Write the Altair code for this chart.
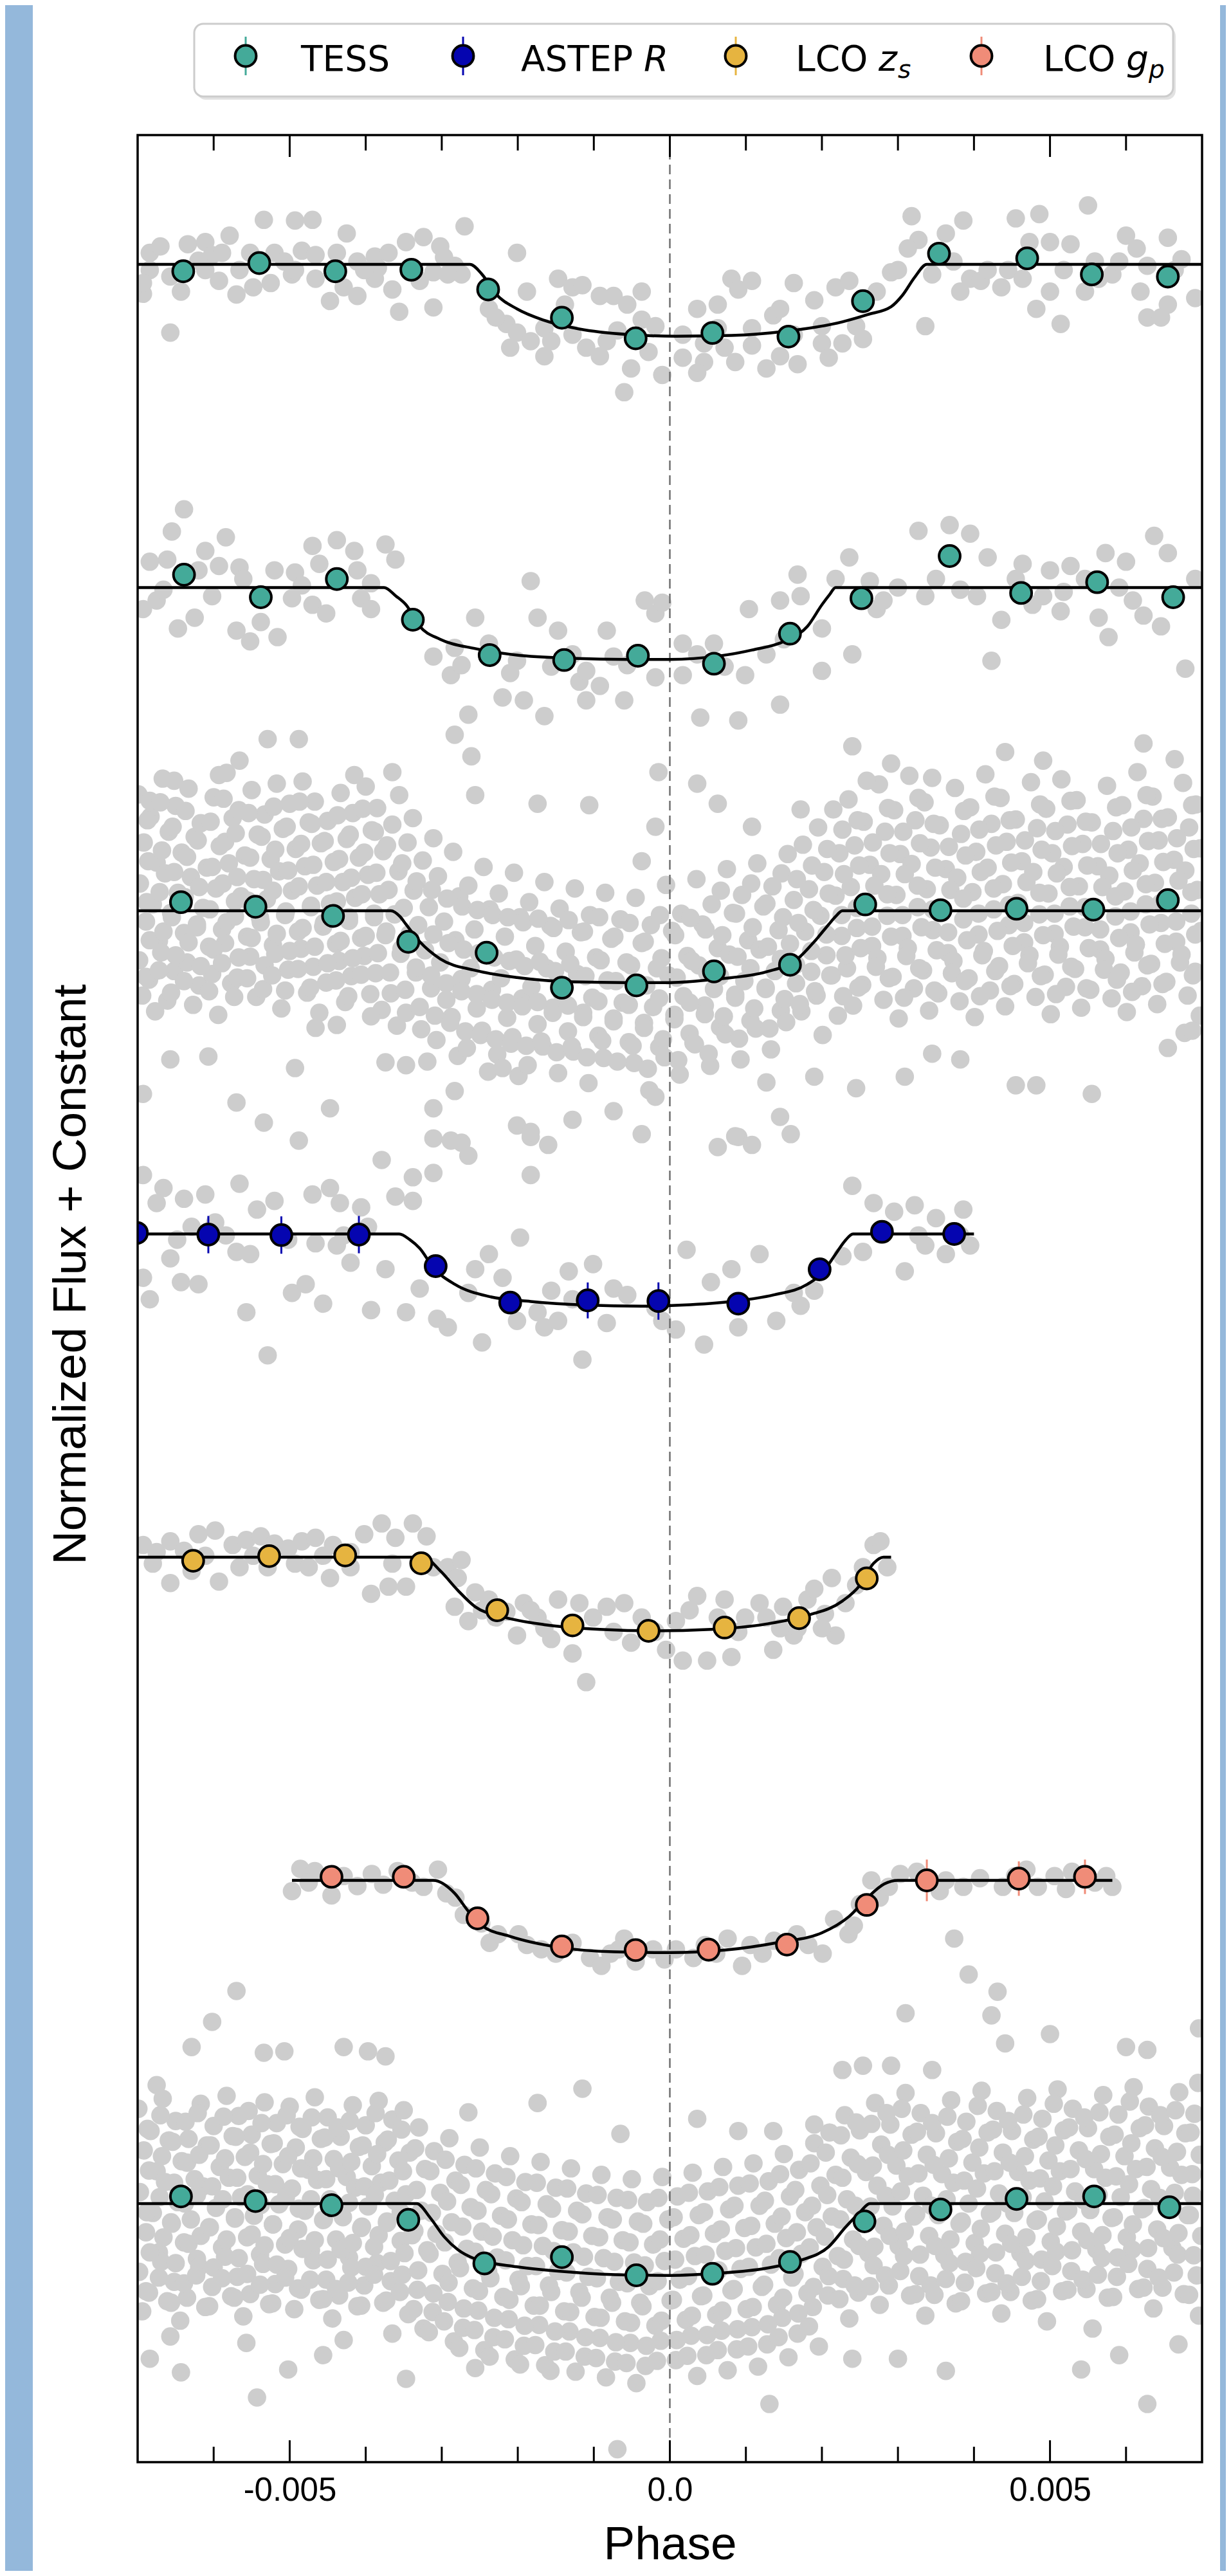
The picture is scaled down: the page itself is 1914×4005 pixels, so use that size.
import altair as alt
import pandas as pd

# ------------------------------------------------------------------
# DATA  (phase in units of 1e-3, relative flux in ppt about each baseline)
# ------------------------------------------------------------------
flux_offset = 0.045          # constant added between light curves
panel_inst = ["TESS", "TESS", "TESS", "ASTEP R", "LCO zs", "LCO gp", "TESS"]
instruments = ["TESS", "ASTEP R", "LCO zs", "LCO gp"]
inst_colors = ["#44AA99", "#0505B0", "#E6B440", "#F08C78"]

xtick_major = [-0.005, 0.0, 0.005]
xtick_labels = ["-0.005", "0.0", "0.005"]
xtick_minor = [-0.006, -0.004, -0.003, -0.002, -0.001, 0.001, 0.002, 0.003, 0.004, 0.006]

# ---- unbinned (grey) photometry ----
gray_p1 = [
(-6.57,-9.5),(-5.34,6.2),(-4.93,6.1),(-4.70,6.2),(-4.25,4.3),(-5.79,4.0),(-2.70,5.3),(-3.11,-6.0),(-3.56,-6.6),(-5.70,-4.2),(-4.47,-5.1),(-4.11,-4.4),(-6.93,-4.1),
(-6.84,1.6),(-6.70,2.5),(-6.34,2.8),(-6.11,3.1),(-6.02,1.3),(-6.20,0.5),(-5.89,1.6),(-5.66,-0.8),(-5.52,1.6),(-5.20,1.6),(-5.07,0.4),(-4.84,1.9),(-4.66,1.3),(-4.38,1.6),(-4.11,0.4),(-3.88,1.1),(-3.70,1.6),(-3.47,3.1),(-3.24,3.8),(-3.02,2.5),(-2.97,1.0),(-2.83,-0.2),(-2.74,-1.4),
(-6.84,-0.8),(-6.57,-1.7),(-6.43,-3.8),(-5.93,-2.3),(-5.48,-3.2),(-5.25,-2.6),(-4.97,-1.4),(-4.66,-2.0),(-4.29,-3.2),(-3.88,-2.0),(-3.65,-3.5),(-3.29,-2.3),(-3.11,-1.1),(-6.93,-2.6),(-6.11,-0.8),(-4.93,-0.8),(-3.84,-0.5),(-2.92,-1.4),(-4.02,-0.8),
(-2.38,-6.2),(-2.15,-8.3),(-2.01,1.6),(-1.88,-3.8),(-2.01,-9.5),(-1.65,-8.9),(-1.47,-2.0),(-1.56,-10.7),(-1.28,-3.2),(-1.15,-2.9),(-1.10,-11.6),(-0.92,-4.4),(-0.74,-4.4),(-0.69,-9.2),(-0.56,-5.6),(-0.37,-3.8),(-0.37,-7.7),(-0.51,-14.5),(-0.60,-17.8),(-0.28,-12.2),(-0.10,-15.4),(-1.65,-12.8),(-1.83,-10.7),(-2.29,-7.4),(-2.10,-11.6),(-1.28,-9.8),(-0.83,-10.7),(-0.19,-8.6),(-0.92,-12.8),(-1.38,-5.6),
(0.17,-9.8),(0.36,-6.2),(0.63,-5.6),(0.81,-2.0),(1.08,-2.3),(0.90,-3.5),(1.36,-7.1),(1.63,-2.6),(1.45,-6.2),(1.90,-5.0),(2.00,-8.6),(2.18,-3.2),(2.36,-2.3),(2.54,-10.4),(2.91,-1.1),(0.17,-13.0),(0.45,-13.6),(0.72,-11.6),(0.86,-13.6),(1.08,-8.9),(1.27,-14.5),(1.45,-12.8),(1.68,-13.9),(2.00,-11.0),(2.27,-11.0),(2.09,-13.0),(0.63,-8.9),(1.08,-11.3),(0.45,-11.0),(1.63,-9.8),(2.45,-8.6),(2.72,-3.8),(0.36,-15.1),
(3.18,6.7),(3.27,3.4),(3.36,-8.6),(3.45,-1.4),(3.63,4.3),(3.86,6.1),(3.95,-2.0),(4.09,-2.3),(4.36,-3.2),(4.55,6.4),(4.73,3.1),(4.82,-6.2),(4.86,7.0),(5.00,3.1),(5.14,-8.3),(5.27,2.8),(5.50,8.2),(5.46,-3.8),(5.64,-2.0),(5.82,-1.4),(6.00,4.0),(6.14,2.2),(6.28,-7.4),(6.46,-7.4),(6.55,3.7),(6.73,0.7),(6.91,-4.7),(3.00,-0.8),(3.13,2.2),(3.73,0.4),(4.18,-0.8),(4.45,-0.8),(5.18,-0.8),(5.59,0.4),(5.91,0.4),(6.28,-0.2),(6.64,-0.8),(5.00,-3.8),(6.19,-3.8),(6.55,-5.6),(3.82,-3.8),(4.64,-2.0),
]

gray_p2 = [
(-6.39,10.9),(-6.55,7.8),(-5.84,7.0),(-6.11,5.1),(-6.84,3.6),(-6.61,3.9),(-6.20,2.4),(-5.93,3.0),(-5.66,2.8),(-5.61,1.2),(-5.20,2.4),(-4.93,2.1),(-4.70,5.8),(-4.38,6.6),(-4.15,5.1),(-3.74,6.0),(-3.61,3.9),(-4.61,3.3),(-4.11,2.4),(-6.93,-3.0),(-6.75,-1.8),(-6.47,-5.7),(-6.25,-4.2),(-5.70,-6.0),(-5.52,-7.5),(-5.16,-6.9),(-5.38,-4.8),(-4.97,-1.5),(-4.70,-2.4),(-4.52,-3.6),(-4.06,-1.5),(-3.93,-3.0),(-6.02,-1.2),(-6.66,-0.3),(-4.84,0.3),(-3.93,0.6),
(-3.11,-9.6),(-2.88,-12.2),(-2.56,-4.2),(-1.83,0.9),(-1.74,-4.2),(-1.47,-6.0),(-1.19,-13.1),(-0.92,-13.7),(-0.83,-6.0),(-0.33,-1.8),(-0.19,-3.6),(-0.10,-2.1),(-0.19,-12.5),(-2.83,-8.4),(-2.38,-7.8),(-2.01,-10.2),(-1.56,-11.0),(-1.28,-9.3),(-0.74,-9.6),(-0.56,-10.8),(-1.10,-11.6),(-2.10,-11.9),(-2.74,-10.8),
(0.17,-7.8),(0.17,-12.2),(0.58,-7.8),(0.99,-12.2),(1.04,-3.0),(1.45,-1.8),(1.50,-7.2),(1.68,1.8),(2.00,-5.7),(2.00,-11.6),(2.18,1.2),(2.40,-9.3),(2.36,4.2),(1.27,-9.3),(0.72,-11.0),(0.36,-9.3),(1.72,-1.2),
(2.63,0.9),(2.72,-3.0),(2.81,-1.8),(3.27,7.9),(3.68,8.7),(3.95,7.5),(4.18,4.2),(3.50,1.2),(3.36,-1.2),(4.04,-1.2),(4.23,-10.2),(4.36,-4.5),(4.64,3.3),(4.77,-2.4),(5.00,2.4),(5.14,-3.3),(5.27,3.0),(5.64,-4.2),(5.73,4.8),(5.77,-6.9),(6.00,3.6),(6.23,-3.9),(6.37,7.2),(6.46,-5.4),(6.55,4.8),(6.78,-11.3),(6.91,1.2),(4.55,1.2),(5.46,1.2),(5.91,0.0),(4.91,-1.2),(3.82,-0.3),(3.00,0.0),(6.09,-1.8),(5.18,-0.6),
]

gray_p3 = [
(-6.99,16.2),(-6.92,9.5),(-6.97,3.8),(-6.89,-1.5),(-6.98,-6.9),(-6.94,-11.8),
(-6.83,13.1),(-6.75,6.7),(-6.80,0.9),(-6.72,-4.2),(-6.85,-9.6),(-6.77,-14.0),
(-6.67,18.4),(-6.59,11.0),(-6.64,5.2),(-6.56,-0.3),(-6.69,-5.8),(-6.61,-12.5),
(-6.50,14.6),(-6.42,8.1),(-6.47,2.5),(-6.39,-3.1),(-6.52,-8.4),
(-6.33,17.0),(-6.25,10.3),(-6.30,4.7),(-6.22,-1.9),(-6.35,-7.2),(-6.27,-13.1),
(-6.17,12.2),(-6.09,6.0),(-6.14,0.4),(-6.06,-5.0),(-6.19,-10.4),
(-6.00,15.8),(-5.92,9.0),(-5.97,3.1),(-5.89,-2.6),(-6.02,-8.8),(-5.94,-14.5),
(-5.83,19.2),(-5.75,12.9),(-5.80,6.6),(-5.72,1.3),(-5.85,-4.5),(-5.77,-10.1),
(-5.67,14.0),(-5.59,7.7),(-5.64,2.0),(-5.56,-3.6),(-5.69,-9.3),
(-5.50,16.8),(-5.42,10.6),(-5.47,4.4),(-5.39,-1.0),(-5.52,-6.4),(-5.44,-12.0),
(-5.33,13.4),(-5.25,7.2),(-5.30,1.6),(-5.22,-4.8),(-5.35,-10.9),
(-5.17,17.7),(-5.09,11.4),(-5.14,5.5),(-5.06,-0.6),(-5.19,-6.0),(-5.11,-13.6),
(-5.00,14.9),(-4.92,8.6),(-4.97,2.8),(-4.89,-2.9),(-5.02,-8.2),
(-4.83,18.0),(-4.75,12.3),(-4.80,6.2),(-4.72,0.7),(-4.85,-5.3),(-4.77,-11.4),
(-4.67,15.2),(-4.59,9.4),(-4.64,3.5),(-4.56,-2.2),(-4.69,-7.8),(-4.61,-14.2),
(-4.50,12.5),(-4.42,6.8),(-4.47,1.0),(-4.39,-4.6),(-4.52,-10.0),
(-4.33,16.4),(-4.25,10.0),(-4.30,4.0),(-4.22,-1.4),(-4.35,-7.0),(-4.27,-12.7),
(-4.17,13.6),(-4.09,7.4),(-4.14,1.8),(-4.06,-3.8),(-4.19,-9.1),
(-4.00,17.3),(-3.92,11.2),(-3.97,5.0),(-3.89,-0.9),(-4.02,-6.3),(-3.94,-11.6),
(-3.85,14.3),(-3.77,8.3),(-3.82,2.3),(-3.74,-3.4),(-3.87,-8.7),(-3.79,-13.8),
(-3.65,12.0),(-3.57,5.5),(-3.62,-0.5),(-3.54,-6.0),(-3.67,-11.5),(-3.59,-16.0),
(-3.45,9.5),(-3.37,2.8),(-3.42,-3.2),(-3.34,-8.6),(-3.47,-14.2),
(-3.25,7.0),(-3.17,0.5),(-3.22,-5.5),(-3.14,-10.8),(-3.27,-16.5),(-3.19,-21.0),
(-3.05,4.8),(-2.97,-1.5),(-3.02,-7.2),(-2.94,-12.4),(-3.07,-18.0),
(-2.85,8.2),(-2.77,2.0),(-2.82,-4.1),(-2.74,-9.5),(-2.87,-14.8),(-2.79,-20.2),
(-2.65,3.5),(-2.57,-2.6),(-2.62,-8.0),(-2.54,-13.6),(-2.67,-19.1),
(-2.45,6.1),(-2.37,0.2),(-2.42,-5.6),(-2.34,-11.0),(-2.47,-16.7),(-2.39,-22.4),
(-2.25,2.4),(-2.17,-3.6),(-2.22,-9.4),(-2.14,-14.9),(-2.27,-20.0),
(-2.05,5.3),(-1.97,-0.9),(-2.02,-6.8),(-1.94,-12.2),(-2.07,-17.6),(-1.99,-23.0),
(-1.85,1.2),(-1.77,-4.9),(-1.82,-10.6),(-1.74,-15.8),(-1.87,-21.5),
(-1.65,4.0),(-1.57,-2.1),(-1.62,-8.0),(-1.54,-13.5),(-1.67,-18.9),
(-1.45,0.3),(-1.37,-5.7),(-1.42,-11.5),(-1.34,-16.8),(-1.47,-22.6),
(-1.25,3.1),(-1.17,-3.0),(-1.22,-8.8),(-1.14,-14.2),(-1.27,-19.6),
(-1.05,-0.6),(-0.97,-6.5),(-1.02,-12.1),(-0.94,-17.4),(-1.07,-24.0),
(-0.85,2.5),(-0.77,-3.9),(-0.82,-9.7),(-0.74,-15.0),(-0.87,-20.5),
(-0.65,-1.2),(-0.57,-7.2),(-0.62,-12.8),(-0.54,-18.3),
(-0.45,1.8),(-0.37,-4.5),(-0.42,-10.2),(-0.34,-15.6),(-0.47,-21.2),
(-0.25,-2.0),(-0.17,-8.0),(-0.22,-13.4),(-0.14,-19.0),(-0.27,-25.0),
(-0.05,3.6),(0.03,-2.8),(-0.02,-9.0),(0.06,-14.5),(-0.07,-20.4),
(0.15,-0.4),(0.23,-6.3),(0.18,-11.9),(0.26,-17.1),(0.13,-22.8),
(0.35,4.4),(0.43,-1.9),(0.38,-7.6),(0.46,-13.2),(0.33,-18.6),
(0.55,0.9),(0.63,-5.2),(0.58,-10.9),(0.66,-16.2),(0.53,-21.6),
(0.75,5.8),(0.83,-0.3),(0.78,-6.1),(0.86,-11.7),(0.73,-17.2),
(0.95,2.2),(1.03,-4.1),(0.98,-9.8),(1.06,-15.3),(0.93,-20.7),
(1.15,6.6),(1.23,0.6),(1.18,-5.4),(1.26,-10.7),(1.13,-16.4),
(1.35,3.4),(1.43,-2.7),(1.38,-8.4),(1.46,-13.9),(1.33,-19.3),
(1.55,7.9),(1.63,1.5),(1.58,-4.6),(1.66,-10.1),(1.53,-15.5),
(1.75,9.2),(1.83,3.0),(1.78,-2.9),(1.86,-8.5),(1.73,-14.0),
(1.95,11.6),(2.03,5.4),(1.98,-0.7),(2.06,-6.2),(1.93,-11.8),(2.01,-17.3),
(2.15,14.1),(2.23,8.0),(2.18,2.1),(2.26,-3.5),(2.13,-9.0),(2.21,-14.6),
(2.35,15.5),(2.43,9.1),(2.38,3.3),(2.46,-2.4),(2.33,-8.0),(2.41,-13.2),
(2.55,12.4),(2.63,6.4),(2.58,0.8),(2.66,-4.9),(2.53,-10.3),
(2.75,17.6),(2.83,11.0),(2.78,5.1),(2.86,-0.7),(2.73,-6.6),(2.81,-12.4),
(2.95,14.0),(3.03,7.9),(2.98,2.2),(3.06,-3.5),(2.93,-9.2),(3.01,-15.0),
(3.15,18.8),(3.23,12.6),(3.18,6.5),(3.26,0.5),(3.13,-5.2),(3.21,-10.8),
(3.35,15.1),(3.43,8.8),(3.38,3.0),(3.46,-2.7),(3.33,-8.3),(3.41,-13.9),
(3.55,11.9),(3.63,5.8),(3.58,-0.1),(3.66,-5.9),(3.53,-11.5),
(3.75,17.1),(3.83,10.7),(3.78,4.6),(3.86,-1.2),(3.73,-7.0),(3.81,-12.6),
(3.95,14.4),(4.03,8.2),(3.98,2.6),(4.06,-3.3),(3.93,-9.4),(4.01,-14.8),
(4.15,19.0),(4.23,12.1),(4.18,6.0),(4.26,0.2),(4.13,-5.6),(4.21,-11.1),
(4.35,15.7),(4.43,9.6),(4.38,3.7),(4.46,-2.0),(4.33,-7.7),(4.41,-13.3),
(4.55,12.7),(4.63,6.9),(4.58,1.1),(4.66,-4.4),(4.53,-10.2),
(4.75,17.9),(4.83,11.5),(4.78,5.4),(4.86,-0.5),(4.73,-6.2),(4.81,-12.0),
(4.95,14.2),(5.03,8.0),(4.98,2.4),(5.06,-3.2),(4.93,-8.9),(5.01,-14.4),
(5.15,18.3),(5.23,12.0),(5.18,6.1),(5.26,0.6),(5.13,-5.0),(5.21,-10.6),
(5.35,15.4),(5.43,9.3),(5.38,3.4),(5.46,-2.3),(5.33,-8.1),(5.41,-13.5),
(5.55,12.3),(5.63,6.2),(5.58,0.3),(5.66,-5.4),(5.53,-11.0),
(5.75,17.4),(5.83,11.1),(5.78,4.9),(5.86,-0.8),(5.73,-6.7),(5.81,-12.2),
(5.95,14.7),(6.03,8.5),(5.98,2.7),(6.06,-3.0),(5.93,-8.6),(6.01,-14.1),
(6.15,19.3),(6.23,12.8),(6.18,6.6),(6.26,0.9),(6.13,-4.7),(6.21,-10.5),
(6.35,15.9),(6.43,9.8),(6.38,3.9),(6.46,-1.7),(6.33,-7.4),(6.41,-13.0),
(6.55,13.0),(6.63,7.1),(6.58,1.4),(6.66,-4.3),(6.53,-9.9),
(6.75,17.8),(6.83,11.6),(6.78,5.6),(6.86,-0.4),(6.73,-6.1),(6.81,-11.8),(6.77,-17.0),
(6.92,14.8),(6.98,8.7),(6.94,2.9),(6.99,-2.8),(6.91,-8.5),(6.97,-14.6),
(-5.29,23.9),(-4.88,23.9),(-5.66,20.9),(-5.93,18.9),(-6.52,18.1),(-6.84,15.3),(-6.57,-20.7),(-6.07,-20.3),(-6.93,-25.5),(-5.70,-26.7),(-5.34,-29.5),(-4.47,-27.5),(-4.93,-21.9),(-4.66,-16.3),(-4.38,-15.9),(-3.93,-14.7),(-3.65,19.3),(-4.15,18.9),(-3.56,16.1),
(-2.65,27.3),(-2.83,24.5),(-2.61,21.5),(-2.56,16.1),(-3.11,10.1),(-3.38,12.9),(-2.20,29.7),(-1.92,29.3),(-1.65,27.1),(-1.10,29.3),(-0.60,29.3),(-1.74,14.9),(-1.06,14.7),(-0.15,19.3),(-0.19,11.7),(-0.37,6.9),(0.40,26.9),(0.90,26.5),(1.45,28.7),(0.36,17.7),(0.63,14.9),(1.08,11.7),(1.72,14.1),
(-3.74,-21.1),(-3.47,-21.5),(-3.11,-27.5),(-2.83,-25.1),(-2.74,-32.3),(-2.20,-21.9),(-2.01,-29.9),(-1.83,-31.5),(-1.28,-29.1),(-0.74,-27.9),(-0.37,-31.1),(-0.19,-25.9),(0.90,-31.5),(1.45,-28.7),(1.27,-23.9),(1.90,-23.1),
(2.40,22.9),(2.91,20.5),(2.59,18.1),(3.45,18.5),(4.41,22.1),(4.91,20.9),(6.23,23.3),(6.64,21.1),(2.45,-24.7),(3.09,-23.1),(3.45,-19.9),(3.82,-20.7),(4.55,-24.3),(4.82,-24.3),(5.55,-25.5),(6.55,-19.1),(6.87,-16.7),
]

gray_p3_core = [
(-6.87,12.6),(-6.86,6.9),(-6.88,1.2),(-6.84,-4.1),(-6.89,-9.2),
(-6.70,15.1),(-6.68,8.4),(-6.71,2.6),(-6.66,-2.9),(-6.72,-8.3),
(-6.54,11.7),(-6.52,5.4),(-6.55,-0.9),(-6.50,-6.2),(-6.56,-11.4),
(-6.37,13.9),(-6.35,7.5),(-6.38,1.9),(-6.33,-4.4),(-6.39,-9.8),
(-6.21,9.8),(-6.19,3.3),(-6.22,-2.3),(-6.17,-7.7),
(-6.04,12.4),(-6.02,6.1),(-6.05,0.2),(-6.00,-5.4),(-6.06,-11.2),
(-5.87,15.6),(-5.85,9.6),(-5.88,3.8),(-5.83,-1.6),(-5.89,-7.3),
(-5.71,10.8),(-5.69,4.7),(-5.72,-0.8),(-5.67,-6.5),(-5.73,-12.0),
(-5.54,13.6),(-5.52,7.4),(-5.55,1.4),(-5.50,-3.8),(-5.56,-9.4),
(-5.37,10.3),(-5.35,4.3),(-5.38,-1.6),(-5.33,-7.6),
(-5.21,14.5),(-5.19,8.5),(-5.22,2.8),(-5.17,-3.2),(-5.23,-9.0),
(-5.04,11.7),(-5.02,5.6),(-5.05,-0.1),(-5.00,-5.6),(-5.06,-11.1),
(-4.87,15.2),(-4.85,9.3),(-4.88,3.4),(-4.83,-2.4),(-4.89,-8.1),
(-4.71,12.1),(-4.69,6.4),(-4.72,0.5),(-4.67,-5.0),(-4.73,-10.7),
(-4.54,9.7),(-4.52,4.0),(-4.55,-1.7),(-4.50,-7.3),
(-4.37,13.3),(-4.35,7.2),(-4.38,1.3),(-4.33,-4.2),(-4.39,-9.7),
(-4.21,10.6),(-4.19,4.6),(-4.22,-0.9),(-4.17,-6.6),(-4.23,-11.9),
(-4.04,14.2),(-4.02,8.1),(-4.05,2.3),(-4.00,-3.5),(-4.06,-8.9),
(-3.88,11.0),(-3.86,5.3),(-3.89,-0.4),(-3.84,-5.9),
(-3.72,9.1),(-3.70,2.9),(-3.73,-2.9),(-3.68,-8.6),
(-3.52,6.6),(-3.50,0.4),(-3.53,-5.3),(-3.48,-11.0),
(-3.33,4.1),(-3.31,-2.0),(-3.34,-7.9),(-3.29,-13.4),
(-3.13,2.9),(-3.11,-3.3),(-3.14,-9.0),(-3.09,-14.6),
(-2.93,1.7),(-2.91,-4.5),(-2.94,-10.1),(-2.89,-15.6),
(-2.73,0.6),(-2.71,-5.4),(-2.74,-11.2),(-2.69,-16.8),
(-2.53,0.1),(-2.51,-5.9),(-2.54,-11.6),(-2.49,-17.3),
(-2.33,-0.6),(-2.31,-6.5),(-2.34,-12.4),(-2.29,-17.9),
(-2.13,-0.9),(-2.11,-7.0),(-2.14,-12.8),(-2.09,-18.5),
(-1.93,-1.6),(-1.91,-7.7),(-1.94,-13.3),(-1.89,-18.8),
(-1.73,-1.1),(-1.71,-7.1),(-1.74,-12.7),(-1.69,-18.2),
(-1.53,-2.4),(-1.51,-8.4),(-1.54,-14.2),(-1.49,-19.7),
(-1.33,-1.3),(-1.31,-7.4),(-1.34,-13.2),(-1.29,-18.9),
(-1.13,-2.9),(-1.11,-9.1),(-1.14,-14.8),(-1.09,-20.4),
(-0.93,-0.9),(-0.91,-6.9),(-0.94,-12.6),(-0.89,-18.1),
(-0.73,-3.6),(-0.71,-9.8),(-0.74,-15.4),(-0.69,-21.0),
(-0.53,-1.7),(-0.51,-7.6),(-0.54,-13.1),(-0.49,-18.8),
(-0.33,-4.3),(-0.31,-10.4),(-0.34,-16.3),(-0.29,-22.0),
(-0.13,-0.6),(-0.11,-6.6),(-0.14,-12.2),(-0.09,-17.9),
(0.07,-3.4),(0.09,-9.3),(0.06,-15.1),(0.11,-20.8),
(0.27,-1.0),(0.29,-7.0),(0.26,-12.8),(0.31,-18.4),
(0.47,-2.6),(0.49,-8.6),(0.46,-14.4),(0.51,-19.9),
(0.67,2.8),(0.69,-3.4),(0.66,-9.1),(0.71,-14.7),
(0.87,-0.4),(0.89,-6.4),(0.86,-12.1),(0.91,-17.8),
(1.07,3.8),(1.09,-2.3),(1.06,-8.0),(1.11,-13.6),
(1.27,1.0),(1.29,-5.0),(1.26,-10.9),(1.31,-16.4),
(1.47,5.2),(1.49,-0.9),(1.46,-6.7),(1.51,-12.3),
(1.67,4.4),(1.69,-1.7),(1.66,-7.5),(1.71,-13.0),
(1.87,6.3),(1.89,0.1),(1.86,-5.6),(1.91,-11.2),
(2.07,8.6),(2.09,2.4),(2.06,-3.3),(2.11,-9.0),
(2.27,11.3),(2.29,5.1),(2.26,-0.6),(2.31,-6.2),(2.28,-11.9),
(2.47,12.6),(2.49,6.3),(2.46,0.4),(2.51,-5.2),(2.48,-10.7),
(2.67,9.5),(2.69,3.5),(2.66,-2.2),(2.71,-7.8),
(2.87,14.3),(2.89,8.0),(2.86,2.3),(2.91,-3.6),(2.88,-9.4),
(3.07,11.0),(3.09,5.1),(3.06,-0.6),(3.11,-6.3),(3.08,-12.1),
(3.27,15.7),(3.29,9.4),(3.26,3.5),(3.31,-2.3),(3.28,-8.0),
(3.47,12.1),(3.49,6.0),(3.46,0.2),(3.51,-5.5),(3.48,-11.1),
(3.67,8.9),(3.69,2.9),(3.66,-3.0),(3.71,-8.7),
(3.87,13.9),(3.89,7.7),(3.86,1.7),(3.91,-4.1),(3.88,-9.8),
(4.07,11.3),(4.09,5.4),(4.06,-0.4),(4.11,-6.2),(4.08,-11.9),
(4.27,15.9),(4.29,9.1),(4.26,3.1),(4.31,-2.8),(4.28,-8.4),
(4.47,12.6),(4.49,6.7),(4.46,0.8),(4.51,-4.9),(4.48,-10.5),
(4.67,9.8),(4.69,4.0),(4.66,-1.7),(4.71,-7.3),
(4.87,14.8),(4.89,8.5),(4.86,2.5),(4.91,-3.4),(4.88,-9.1),
(5.07,11.1),(5.09,5.2),(5.06,-0.4),(5.11,-6.1),(5.08,-11.6),
(5.27,15.3),(5.29,9.0),(5.26,3.3),(5.31,-2.2),(5.28,-7.8),
(5.47,12.4),(5.49,6.3),(5.46,0.5),(5.51,-5.2),(5.48,-10.8),
(5.67,9.3),(5.69,3.3),(5.66,-2.6),(5.71,-8.2),
(5.87,14.4),(5.89,8.0),(5.86,2.0),(5.91,-3.8),(5.88,-9.6),
(6.07,11.6),(6.09,5.6),(6.06,-0.1),(6.11,-5.8),(6.08,-11.3),
(6.27,16.1),(6.29,9.7),(6.26,3.7),(6.31,-1.9),(6.28,-7.6),
(6.47,12.8),(6.49,6.8),(6.46,1.1),(6.51,-4.6),(6.48,-10.2),
(6.67,10.1),(6.69,4.2),(6.66,-1.5),(6.71,-7.2),
(6.87,14.7),(6.89,8.6),(6.86,2.6),(6.91,-3.3),(6.88,-9.0),
]

gray_p4 = [
(-6.93,8.2),(-6.66,6.4),(-6.75,4.3),(-6.39,4.9),(-6.11,5.5),(-5.66,7.0),(-5.43,3.4),(-5.20,4.6),(-4.88,13.0),(-4.70,5.5),(-4.47,6.4),(-4.34,4.3),(-4.06,3.7),(-3.79,10.3),(-3.61,5.2),(-3.38,4.6),(-3.38,7.9),(-3.11,8.5),
(-6.48,-0.8),(-6.57,-3.4),(-6.93,-6.1),(-6.84,-9.1),(-6.43,-6.7),(-6.20,-7.0),(-5.70,-2.5),(-5.52,-2.8),(-5.57,-10.9),(-5.29,-16.9),(-4.97,-8.2),(-4.79,-7.0),(-4.56,-9.7),(-4.66,-1.3),(-4.38,-1.6),(-4.20,-4.0),(-3.93,-10.6),(-3.74,-4.9),(-3.47,-10.9),(-3.29,-7.6),(-5.98,1.6),(-5.02,-0.8),(-5.84,-0.2),(-3.97,1.0),(-4.29,-0.2),(-6.29,1.0),
(-3.11,13.3),(-2.88,13.0),(-2.65,10.9),(-3.06,-11.8),(-2.92,-13.0),(-2.65,-8.2),(-2.47,-15.1),(-2.38,-2.8),(-2.56,-4.9),(-1.97,-0.5),(-1.83,14.2),(-1.60,12.4),(-1.83,8.2),(-1.74,-10.9),(-1.65,-13.0),(-1.56,-7.9),(-1.47,-12.1),(-1.33,-5.2),(-1.15,-17.5),(-1.28,-9.1),(-1.01,-4.2),(-0.83,-12.4),(-0.74,-7.6),(-0.56,-8.5),(-0.19,-10.3),(0.08,-13.3),(-0.10,-12.1),(-2.20,-6.1),(-2.01,-12.1),
(0.22,-2.2),(0.45,-15.4),(0.63,12.1),(0.86,13.6),(1.08,12.4),(0.54,-6.7),(0.81,-4.9),(0.90,-13.0),(1.18,-2.8),(1.40,-12.1),(1.59,13.9),(1.63,-8.2),(1.72,-10.0),(1.90,-7.9),(2.00,-4.9),(2.27,-3.1),(2.40,6.7),(2.68,4.3),(2.95,3.1),(3.22,4.0),(3.50,2.2),(3.86,3.4),(2.54,-2.5),(3.09,-5.2),(3.36,-1.6),(3.63,-2.8),(3.95,-1.6),(3.27,-0.2),(3.82,-0.2),
]

gray_p5 = [
(-6.93,1.7),(-6.75,0.7),(-6.57,2.2),(-6.39,0.9),(-6.20,3.2),(-5.98,3.7),(-5.75,1.7),(-5.57,2.4),(-5.38,2.9),(-5.20,1.9),(-5.02,1.2),(-4.84,2.2),(-4.66,2.7),(-4.43,1.7),(-4.20,0.7),(-4.02,3.2),(-3.79,4.7),(-3.61,2.7),(-3.38,4.7),(-3.20,2.9),
(-6.57,-3.6),(-6.29,-1.9),(-5.93,-3.4),(-5.66,-1.4),(-5.29,-1.4),(-4.93,-0.9),(-4.47,-2.9),(-4.20,-1.4),(-3.93,-5.1),(-3.70,-4.1),(-3.47,-4.1),(-6.80,-0.9),(-4.75,-1.4),(-6.11,0.2),(-5.48,0.2),(-4.56,0.2),(-3.65,-0.9),(-3.11,-1.4),
(-2.92,-1.4),(-2.74,-0.4),(-2.83,-6.9),(-2.65,-8.9),(-2.56,-4.9),(-2.38,-5.9),(-2.15,-7.6),(-2.01,-10.9),(-1.92,-6.4),(-1.74,-8.4),(-1.56,-11.4),(-1.47,-5.9),(-1.28,-13.4),(-1.19,-6.4),(-1.10,-17.4),(-1.01,-8.4),(-0.83,-6.9),(-0.74,-10.4),(-0.60,-6.4),(-0.51,-11.9),(-0.37,-8.4),(-0.19,-10.4),(-0.05,-12.9),(0.08,-8.9),(0.17,-14.4),(0.26,-7.4),(0.36,-5.4),(0.49,-14.4),(0.63,-8.4),(0.72,-5.9),(0.81,-13.9),(0.90,-10.4),(0.99,-8.4),(1.18,-6.4),(1.27,-8.4),(1.36,-12.9),(1.49,-6.9),(1.63,-10.9),(1.81,-5.9),(1.90,-4.4),(2.04,-7.9),(2.13,-2.9),(2.18,-10.9),(2.31,-6.4),(2.45,-3.9),(2.54,-1.4),(2.68,1.7),(2.77,2.2),(2.86,-1.4),(2.00,-9.9),(1.68,-9.9),(1.45,-9.9),(-1.65,-9.9),(-2.29,-8.4),(-2.79,-2.9),(-2.47,-7.4),(-1.83,-7.4),
]

gray_p6 = [
(-4.97,-1.5),(-4.86,1.6),(-4.67,1.3),(-4.45,-2.1),(-4.29,0.6),(-4.11,-0.8),(-3.92,0.9),(-3.77,-0.6),(-3.58,1.3),(-3.39,-0.3),(-3.24,-0.9),(-3.05,1.5),(-2.94,-1.8),(-2.82,-2.4),(-2.71,-4.8),(-2.37,-8.7),(-2.26,-7.5),(-1.99,-7.5),(-1.88,-9.0),(-1.69,-9.6),(-1.50,-10.2),(-1.28,-8.7),(-1.05,-10.8),(-0.90,-11.9),(-0.78,-10.2),(-0.60,-8.1),(-0.45,-11.3),(-0.22,-9.6),(-0.07,-11.0),(0.08,-9.6),(0.31,-10.8),(0.46,-9.0),(0.61,-10.2),(0.76,-8.1),(0.95,-11.9),(1.06,-9.0),(1.22,-10.2),(1.37,-8.4),(1.67,-7.5),(1.82,-9.0),(2.01,-10.2),(2.16,-5.4),(2.35,-7.5),(2.42,-6.3),(2.65,0.0),(2.76,-2.4),(2.88,-0.9),(3.03,0.9),(3.25,1.2),(3.55,-1.5),(3.74,-8.1),(3.93,-13.1),(4.08,0.3),(4.31,-15.5),(4.38,-0.9),(4.69,1.5),(4.84,-0.9),(5.06,0.6),(5.21,-1.2),(5.59,-0.3),(5.74,0.6),(5.82,-0.9),(3.10,-18.5),(4.23,-18.8),(3.63,0.0),(5.29,1.2),(3.86,-0.9),(-4.75,-0.3),(-2.48,-6.0),(-0.67,-9.6),(2.50,-3.3),(4.54,0.6),
]

gray_p7 = [
(-6.99,13.2),(-6.92,7.4),(-6.97,1.6),(-6.89,-4.0),(-6.98,-9.5),(-6.94,-15.0),
(-6.83,10.1),(-6.75,4.5),(-6.80,-1.3),(-6.72,-6.8),(-6.85,-12.4),
(-6.67,14.6),(-6.59,8.8),(-6.64,3.0),(-6.56,-2.6),(-6.69,-8.1),(-6.61,-13.6),
(-6.50,11.5),(-6.42,5.9),(-6.47,0.2),(-6.39,-5.4),(-6.52,-10.9),(-6.44,-16.3),
(-6.33,9.0),(-6.25,3.4),(-6.30,-2.2),(-6.22,-7.7),(-6.35,-13.1),
(-6.17,13.9),(-6.09,8.1),(-6.14,2.4),(-6.06,-3.3),(-6.19,-8.8),(-6.11,-14.4),
(-6.00,10.8),(-5.92,5.1),(-5.97,-0.6),(-5.89,-6.1),(-6.02,-11.6),
(-5.83,15.0),(-5.75,9.4),(-5.80,3.6),(-5.72,-1.9),(-5.85,-7.4),(-5.77,-12.9),
(-5.67,12.2),(-5.59,6.5),(-5.64,0.9),(-5.56,-4.7),(-5.69,-10.2),(-5.61,-15.7),
(-5.50,9.6),(-5.42,3.9),(-5.47,-1.7),(-5.39,-7.1),(-5.52,-12.6),
(-5.33,14.1),(-5.25,8.3),(-5.30,2.7),(-5.22,-2.9),(-5.35,-8.4),(-5.27,-14.0),
(-5.17,11.2),(-5.09,5.5),(-5.14,-0.1),(-5.06,-5.7),(-5.19,-11.2),
(-5.00,13.5),(-4.92,7.8),(-4.97,2.1),(-4.89,-3.6),(-5.02,-9.1),(-4.94,-14.7),
(-4.83,10.4),(-4.75,4.7),(-4.80,-1.0),(-4.72,-6.5),(-4.85,-12.0),
(-4.67,14.8),(-4.59,9.0),(-4.64,3.3),(-4.56,-2.3),(-4.69,-7.9),(-4.61,-13.4),
(-4.50,12.0),(-4.42,6.2),(-4.47,0.6),(-4.39,-5.0),(-4.52,-10.6),(-4.44,-16.0),
(-4.33,9.3),(-4.25,3.7),(-4.30,-1.9),(-4.22,-7.5),(-4.35,-12.8),
(-4.17,13.7),(-4.09,7.9),(-4.14,2.2),(-4.06,-3.4),(-4.19,-8.9),(-4.11,-14.3),
(-4.00,10.9),(-3.92,5.2),(-3.97,-0.4),(-3.89,-6.0),(-4.02,-11.4),
(-3.83,14.3),(-3.75,8.5),(-3.80,2.9),(-3.72,-2.7),(-3.85,-8.3),(-3.77,-13.8),
(-3.65,11.7),(-3.57,6.0),(-3.62,0.4),(-3.54,-5.2),(-3.67,-10.8),
(-3.50,13.0),(-3.42,7.1),(-3.47,1.3),(-3.39,-4.4),(-3.52,-9.9),(-3.44,-15.4),
(-3.30,10.6),(-3.22,4.8),(-3.27,-1.0),(-3.19,-6.5),(-3.32,-12.0),(-3.24,-17.4),
(-3.10,7.3),(-3.02,1.5),(-3.07,-4.2),(-2.99,-9.8),(-3.12,-15.1),
(-2.90,9.1),(-2.82,3.2),(-2.87,-2.6),(-2.79,-8.2),(-2.92,-13.7),(-2.84,-19.2),
(-2.70,5.4),(-2.62,-0.5),(-2.67,-6.3),(-2.59,-11.8),(-2.72,-17.3),
(-2.50,7.8),(-2.42,1.9),(-2.47,-3.9),(-2.39,-9.4),(-2.52,-14.9),(-2.44,-20.4),
(-2.30,4.2),(-2.22,-1.7),(-2.27,-7.5),(-2.19,-13.0),(-2.32,-18.6),
(-2.10,6.6),(-2.02,0.7),(-2.07,-5.1),(-1.99,-10.6),(-2.12,-16.1),(-2.04,-21.7),
(-1.90,3.0),(-1.82,-2.9),(-1.87,-8.7),(-1.79,-14.2),(-1.92,-19.8),
(-1.70,5.8),(-1.62,-0.1),(-1.67,-5.9),(-1.59,-11.4),(-1.72,-16.9),(-1.64,-22.5),
(-1.50,2.2),(-1.42,-3.7),(-1.47,-9.4),(-1.39,-15.0),(-1.52,-20.6),
(-1.30,4.9),(-1.22,-1.0),(-1.27,-6.8),(-1.19,-12.3),(-1.32,-17.8),(-1.24,-23.4),
(-1.10,1.4),(-1.02,-4.5),(-1.07,-10.2),(-0.99,-15.8),(-1.12,-21.3),
(-0.90,4.0),(-0.82,-1.9),(-0.87,-7.6),(-0.79,-13.1),(-0.92,-18.7),(-0.84,-24.2),
(-0.70,0.8),(-0.62,-5.1),(-0.67,-10.9),(-0.59,-16.4),(-0.72,-22.0),
(-0.50,3.4),(-0.42,-2.5),(-0.47,-8.2),(-0.39,-13.8),(-0.52,-19.4),(-0.44,-25.0),
(-0.30,0.2),(-0.22,-5.7),(-0.27,-11.5),(-0.19,-17.0),(-0.32,-22.6),
(-0.10,3.7),(-0.02,-2.2),(-0.07,-8.0),(0.01,-13.5),(-0.12,-19.1),
(0.10,1.0),(0.18,-4.9),(0.13,-10.6),(0.21,-16.2),(0.08,-21.8),
(0.30,4.3),(0.38,-1.6),(0.33,-7.3),(0.41,-12.9),(0.28,-18.4),(0.36,-24.0),
(0.50,1.7),(0.58,-4.2),(0.53,-10.0),(0.61,-15.5),(0.48,-21.1),
(0.70,5.1),(0.78,-0.8),(0.73,-6.6),(0.81,-12.1),(0.68,-17.7),(0.76,-23.2),
(0.90,2.5),(0.98,-3.4),(0.93,-9.1),(1.01,-14.7),(0.88,-20.3),
(1.10,5.6),(1.18,-0.3),(1.13,-6.1),(1.21,-11.6),(1.08,-17.2),(1.16,-22.7),
(1.30,3.1),(1.38,-2.8),(1.33,-8.5),(1.41,-14.1),(1.28,-19.6),
(1.50,6.9),(1.58,1.0),(1.53,-4.8),(1.61,-10.3),(1.48,-15.9),(1.56,-21.4),
(1.70,4.7),(1.78,-1.2),(1.73,-7.0),(1.81,-12.5),(1.68,-18.1),
(1.90,8.4),(1.98,2.5),(1.93,-3.3),(2.01,-8.8),(1.88,-14.4),(1.96,-19.9),
(2.10,9.9),(2.18,4.0),(2.13,-1.8),(2.21,-7.3),(2.08,-12.8),
(2.30,12.3),(2.38,6.4),(2.33,0.6),(2.41,-5.0),(2.28,-10.5),(2.36,-16.0),
(2.50,10.2),(2.58,4.4),(2.53,-1.4),(2.61,-6.9),(2.48,-12.4),
(2.70,14.0),(2.78,8.2),(2.73,2.5),(2.81,-3.1),(2.68,-8.6),(2.76,-14.1),
(2.90,11.0),(2.98,5.3),(2.93,-0.4),(3.01,-5.9),(2.88,-11.4),
(3.10,15.4),(3.18,9.6),(3.13,3.8),(3.21,-1.8),(3.08,-7.3),(3.16,-12.8),
(3.30,12.6),(3.38,6.8),(3.33,1.1),(3.41,-4.5),(3.28,-10.1),(3.36,-15.6),
(3.50,9.8),(3.58,4.1),(3.53,-1.6),(3.61,-7.2),(3.48,-12.7),
(3.70,14.4),(3.78,8.6),(3.73,2.9),(3.81,-2.8),(3.68,-8.3),(3.76,-13.9),
(3.90,11.4),(3.98,5.7),(3.93,0.0),(4.01,-5.5),(3.88,-11.0),
(4.10,15.7),(4.18,9.9),(4.13,4.2),(4.21,-1.4),(4.08,-7.0),(4.16,-12.5),
(4.30,12.9),(4.38,7.1),(4.33,1.4),(4.41,-4.2),(4.28,-9.7),(4.36,-15.3),
(4.50,10.1),(4.58,4.4),(4.53,-1.3),(4.61,-6.9),(4.48,-12.3),
(4.70,14.7),(4.78,8.9),(4.73,3.2),(4.81,-2.4),(4.68,-8.0),(4.76,-13.5),
(4.90,11.8),(4.98,6.0),(4.93,0.3),(5.01,-5.3),(4.88,-10.8),(4.96,-16.4),
(5.10,15.9),(5.18,10.2),(5.13,4.5),(5.21,-1.1),(5.08,-6.7),(5.16,-12.2),
(5.30,13.2),(5.38,7.4),(5.33,1.7),(5.41,-3.9),(5.28,-9.4),
(5.50,10.5),(5.58,4.8),(5.53,-0.9),(5.61,-6.4),(5.48,-11.9),(5.56,-17.4),
(5.70,15.1),(5.78,9.3),(5.73,3.6),(5.81,-2.0),(5.68,-7.6),(5.76,-13.1),
(5.90,12.4),(5.98,6.6),(5.93,0.9),(6.01,-4.7),(5.88,-10.2),
(6.10,16.2),(6.18,10.5),(6.13,4.8),(6.21,-0.8),(6.08,-6.4),(6.16,-11.9),
(6.30,13.5),(6.38,7.7),(6.33,2.0),(6.41,-3.6),(6.28,-9.1),(6.36,-14.6),
(6.50,10.8),(6.58,5.0),(6.53,-0.6),(6.61,-6.2),(6.48,-11.7),
(6.70,15.5),(6.78,9.8),(6.73,4.0),(6.81,-1.6),(6.68,-7.1),(6.76,-12.6),
(6.95,16.8),(6.90,12.5),(6.97,6.8),(6.88,1.1),(6.99,-4.5),(6.93,-10.0),(6.96,-15.6),
(-5.70,29.6),(-6.02,25.3),(-6.29,21.8),(-5.34,21.0),(-5.07,21.2),(-4.29,21.8),(-3.97,21.2),(-3.74,20.5),(-6.75,16.5),(-5.43,-27.0),(-6.43,-23.5),(-6.84,-21.6),(-5.02,-23.1),(-4.56,-21.1),(-3.47,-24.4),(-6.57,-18.5),(-5.57,-19.4),(-4.29,-19.0),(-3.65,-18.1),
(-2.65,12.7),(-1.74,14.0),(-1.15,16.0),(-0.65,9.7),(-0.69,-34.2),(1.31,-27.9),(-2.56,-22.9),(0.90,10.1),(1.36,10.1),(1.90,11.0),(0.36,11.8),
(2.27,18.6),(2.54,19.2),(2.91,19.2),(3.45,18.6),(5.00,23.6),(4.41,22.3),(6.00,21.8),(6.28,21.4),(6.96,24.4),(3.63,-23.3),(5.41,-23.1),(6.28,-27.9),(3.00,-21.6),(2.40,-21.6),(6.69,-19.6),(5.91,-21.1),
]

gray_p7_core = [
(-6.87,10.4),(-6.85,4.6),(-6.88,-1.2),(-6.84,-6.8),(-6.89,-12.2),
(-6.70,12.3),(-6.68,6.6),(-6.71,0.9),(-6.66,-4.7),(-6.72,-10.3),
(-6.54,8.6),(-6.52,2.9),(-6.55,-2.8),(-6.50,-8.3),(-6.56,-13.8),
(-6.37,11.4),(-6.35,5.7),(-6.38,0.0),(-6.33,-5.6),(-6.39,-11.1),
(-6.21,12.6),(-6.19,6.8),(-6.22,1.2),(-6.17,-4.5),(-6.23,-10.0),
(-6.04,8.1),(-6.02,2.4),(-6.05,-3.3),(-6.00,-8.9),(-6.06,-14.3),
(-5.87,12.1),(-5.85,6.3),(-5.88,0.6),(-5.83,-5.0),(-5.89,-10.4),
(-5.71,9.3),(-5.69,3.6),(-5.72,-2.1),(-5.67,-7.6),(-5.73,-13.1),
(-5.54,12.9),(-5.52,7.1),(-5.55,1.3),(-5.50,-4.3),(-5.56,-9.8),
(-5.37,11.2),(-5.35,5.5),(-5.38,-0.2),(-5.33,-5.8),(-5.39,-11.3),
(-5.21,8.4),(-5.19,2.7),(-5.22,-2.9),(-5.17,-8.5),(-5.23,-13.9),
(-5.04,12.3),(-5.02,6.6),(-5.05,0.9),(-5.00,-4.8),(-5.06,-10.3),
(-4.87,10.7),(-4.85,4.9),(-4.88,-0.7),(-4.83,-6.3),(-4.89,-11.8),
(-4.71,12.0),(-4.69,6.3),(-4.72,0.6),(-4.67,-5.1),(-4.73,-10.6),
(-4.54,9.2),(-4.52,3.4),(-4.55,-2.2),(-4.50,-7.8),(-4.56,-13.3),
(-4.37,10.6),(-4.35,4.9),(-4.38,-0.8),(-4.33,-6.4),(-4.39,-11.9),
(-4.21,11.5),(-4.19,5.8),(-4.22,0.1),(-4.17,-5.5),(-4.23,-11.0),
(-4.04,8.1),(-4.02,2.4),(-4.05,-3.2),(-4.00,-8.8),(-4.06,-14.2),
(-3.87,12.6),(-3.85,6.9),(-3.88,1.2),(-3.83,-4.4),(-3.89,-9.9),
(-3.71,8.9),(-3.69,3.2),(-3.72,-2.5),(-3.67,-8.0),(-3.73,-13.5),
(-3.53,10.3),(-3.51,4.5),(-3.54,-1.2),(-3.49,-6.9),(-3.55,-12.3),
(-3.35,7.7),(-3.33,1.9),(-3.36,-3.8),(-3.31,-9.3),(-3.37,-14.7),
(-3.15,4.5),(-3.13,-1.3),(-3.16,-7.0),(-3.11,-12.5),(-3.17,-17.9),
(-2.95,6.1),(-2.93,0.3),(-2.96,-5.4),(-2.91,-11.0),(-2.97,-16.4),
(-2.75,2.6),(-2.73,-3.2),(-2.76,-9.0),(-2.71,-14.6),(-2.77,-20.1),
(-2.55,4.9),(-2.53,-1.0),(-2.56,-6.7),(-2.51,-12.2),(-2.57,-17.6),
(-2.35,1.3),(-2.33,-4.6),(-2.36,-10.4),(-2.31,-15.9),(-2.37,-21.3),
(-2.15,3.7),(-2.13,-2.2),(-2.16,-7.9),(-2.11,-13.4),(-2.17,-18.9),
(-1.95,0.2),(-1.93,-5.8),(-1.96,-11.5),(-1.91,-17.0),(-1.97,-22.4),
(-1.75,2.9),(-1.73,-3.0),(-1.76,-8.7),(-1.71,-14.2),(-1.77,-19.7),
(-1.55,-0.7),(-1.53,-6.6),(-1.56,-12.3),(-1.51,-17.8),(-1.57,-23.3),
(-1.35,2.1),(-1.33,-3.9),(-1.36,-9.6),(-1.31,-15.1),(-1.37,-20.6),
(-1.15,-1.5),(-1.13,-7.4),(-1.16,-13.1),(-1.11,-18.6),
(-0.95,1.2),(-0.93,-4.7),(-0.96,-10.4),(-0.91,-15.9),(-0.97,-21.5),
(-0.75,-2.2),(-0.73,-8.1),(-0.76,-13.8),(-0.71,-19.3),
(-0.55,0.5),(-0.53,-5.4),(-0.56,-11.1),(-0.51,-16.6),(-0.57,-22.2),
(-0.35,-2.8),(-0.33,-8.6),(-0.36,-14.3),(-0.31,-19.8),
(-0.15,0.8),(-0.13,-5.0),(-0.16,-10.8),(-0.11,-16.3),(-0.17,-21.9),
(0.05,-1.9),(0.07,-7.8),(0.04,-13.4),(0.09,-19.0),
(0.25,1.5),(0.27,-4.4),(0.24,-10.1),(0.29,-15.6),(0.23,-21.2),
(0.45,-1.2),(0.47,-7.1),(0.44,-12.8),(0.49,-18.3),
(0.65,2.3),(0.67,-3.6),(0.64,-9.3),(0.69,-14.9),(0.63,-20.4),
(0.85,-0.3),(0.87,-6.2),(0.84,-11.9),(0.89,-17.5),
(1.05,2.8),(1.07,-3.1),(1.04,-8.8),(1.09,-14.4),(1.03,-19.9),
(1.25,0.4),(1.27,-5.6),(1.24,-11.3),(1.29,-16.8),
(1.45,4.1),(1.47,-1.8),(1.44,-7.6),(1.49,-13.1),(1.43,-18.6),
(1.65,1.9),(1.67,-4.0),(1.64,-9.8),(1.69,-15.3),
(1.85,5.6),(1.87,-0.3),(1.84,-6.1),(1.89,-11.6),(1.83,-17.1),
(2.05,7.1),(2.07,1.2),(2.04,-4.6),(2.09,-10.1),
(2.25,9.5),(2.27,3.6),(2.24,-2.2),(2.29,-7.8),(2.23,-13.3),
(2.45,11.3),(2.47,5.5),(2.44,-0.3),(2.49,-5.9),(2.43,-11.4),
(2.65,11.1),(2.67,5.3),(2.64,-0.4),(2.69,-6.0),(2.63,-11.5),
(2.85,12.6),(2.87,6.8),(2.84,1.1),(2.89,-4.5),(2.83,-10.0),
(3.05,13.2),(3.07,7.4),(3.04,1.7),(3.09,-3.9),(3.03,-9.4),
(3.25,10.0),(3.27,4.2),(3.24,-1.5),(3.29,-7.1),(3.23,-12.6),
(3.45,11.2),(3.47,5.4),(3.44,-0.3),(3.49,-5.9),(3.43,-11.4),
(3.65,12.1),(3.67,6.3),(3.64,0.6),(3.69,-5.0),(3.63,-10.5),
(3.85,9.0),(3.87,3.2),(3.84,-2.5),(3.89,-8.1),(3.83,-13.6),
(4.05,13.6),(4.07,7.8),(4.04,2.1),(4.09,-3.5),(4.03,-9.0),
(4.25,10.3),(4.27,4.5),(4.24,-1.2),(4.29,-6.8),(4.23,-12.3),
(4.45,11.5),(4.47,5.7),(4.44,0.0),(4.49,-5.6),(4.43,-11.1),
(4.65,12.4),(4.67,6.6),(4.64,0.9),(4.69,-4.7),(4.63,-10.2),
(4.85,9.3),(4.87,3.5),(4.84,-2.2),(4.89,-7.8),(4.83,-13.3),
(5.05,13.9),(5.07,8.1),(5.04,2.4),(5.09,-3.2),(5.03,-8.7),
(5.25,10.6),(5.27,4.8),(5.24,-0.9),(5.29,-6.5),(5.23,-12.0),
(5.45,12.0),(5.47,6.2),(5.44,0.5),(5.49,-5.1),(5.43,-10.6),
(5.65,12.7),(5.67,6.9),(5.64,1.2),(5.69,-4.4),(5.63,-9.9),
(5.85,9.6),(5.87,3.8),(5.84,-1.9),(5.89,-7.5),(5.83,-13.0),
(6.05,14.2),(6.07,8.4),(6.04,2.7),(6.09,-2.9),(6.03,-8.4),
(6.25,10.9),(6.27,5.1),(6.24,-0.6),(6.29,-6.2),(6.23,-11.7),
(6.45,12.3),(6.47,6.5),(6.44,0.8),(6.49,-4.8),(6.43,-10.3),
(6.65,13.0),(6.67,7.2),(6.64,1.5),(6.69,-4.1),(6.63,-9.6),
(6.85,9.9),(6.87,4.1),(6.84,-1.6),(6.89,-7.2),(6.83,-12.7),
]

# ---- transit models ----
model_p1 = [(-7.0,0),(-2.63,0),(-2.47,-1.4),(-2.29,-4.1),(-2.01,-6.2),(-1.65,-7.8),(-1.19,-9.0),(-0.56,-9.76),(0.08,-10.0),(0.81,-9.9),(1.54,-9.3),(2.27,-8.0),(2.6,-7.0),(2.91,-5.9),(3.06,-4.3),(3.22,-1.8),(3.38,0),(7.0,0)]
model_p2 = [(-7.0,0),(-3.76,0),(-3.6,-1.2),(-3.47,-2.4),(-3.29,-5.4),(-3.02,-7.2),(-2.56,-8.5),(-2.01,-9.4),(-1.28,-9.85),(-0.56,-10.0),(0.0,-10.0),(0.63,-9.55),(1.08,-8.7),(1.54,-7.3),(1.81,-5.4),(2.0,-2.4),(2.1,-1.0),(2.18,0),(7.0,0)]
model_p3 = [(-7.0,0),(-3.67,0),(-3.55,-0.8),(-3.47,-1.9),(-3.29,-4.3),(-3.02,-6.7),(-2.56,-8.3),(-2.01,-9.3),(-1.28,-9.9),(-0.56,-10.0),(0.0,-10.0),(0.63,-9.5),(1.27,-8.5),(1.68,-6.7),(1.9,-4.3),(2.09,-1.9),(2.18,-0.8),(2.27,0),(7.0,0)]
model_p4 = [(-7.0,0),(-3.56,0),(-3.42,-0.8),(-3.29,-2.0),(-3.11,-4.7),(-2.83,-7.0),(-2.38,-8.7),(-1.83,-9.4),(-1.10,-9.9),(-0.37,-10.06),(0.17,-9.9),(0.81,-9.4),(1.36,-8.5),(1.81,-7.0),(2.0,-5.5),(2.18,-2.8),(2.3,-1.0),(2.41,0),(4.0,0)]
model_p5 = [(-7.0,0),(-3.24,0),(-3.02,-1.9),(-2.79,-4.6),(-2.56,-6.9),(-2.20,-8.3),(-1.65,-9.4),(-0.92,-10.05),(-0.19,-10.25),(0.54,-10.05),(1.27,-9.3),(1.81,-8.1),(2.27,-6.1),(2.50,-3.9),(2.68,-0.85),(2.81,0),(2.91,0)]
model_p6 = [(-4.97,0),(-3.11,0),(-2.83,-1.8),(-2.65,-4.3),(-2.47,-6.3),(-2.10,-7.8),(-1.47,-9.3),(-0.74,-9.95),(0.0,-10.05),(0.73,-9.7),(1.45,-8.6),(2.0,-7.3),(2.36,-5.0),(2.59,-2.5),(2.82,-0.5),(3.0,0),(5.82,0)]
model_p7 = [(-7.0,0),(-3.33,0),(-3.15,-2.0),(-2.97,-4.6),(-2.79,-6.4),(-2.56,-7.7),(-2.01,-8.8),(-1.28,-9.55),(-0.56,-9.94),(0.0,-10.0),(0.63,-9.7),(1.27,-9.0),(1.72,-7.9),(2.09,-6.0),(2.31,-3.3),(2.5,-1.2),(2.63,0),(7.0,0)]

# ---- binned photometry: (phase, flux ppt, error ppt) ----
binned_p1 = [(-6.40,-0.96,0),(-5.40,0.18,0),(-4.40,-0.96,0),(-3.40,-0.75,0),(-2.39,-3.49,0),(-1.42,-7.43,0),(-0.45,-10.30,0),(0.56,-9.55,0),(1.56,-10.06,0),(2.54,-5.13,0),(3.54,1.49,0),(4.70,0.84,0),(5.55,-1.40,0),(6.55,-1.70,0)]
binned_p2 = [(-6.39,1.79,0),(-5.38,-1.34,0),(-4.38,1.19,0),(-3.38,-4.48,0),(-2.37,-9.40,0),(-1.39,-10.09,0),(-0.42,-9.49,0),(0.58,-10.60,0),(1.58,-6.42,0),(2.52,-1.49,0),(3.68,4.39,0),(4.62,-0.75,0),(5.62,0.75,0),(6.62,-1.34,0)]
binned_p3 = [(-6.43,1.20,0),(-5.45,0.56,0),(-4.43,-0.72,0),(-3.44,-4.32,0),(-2.41,-5.84,0),(-1.42,-10.71,0),(-0.44,-10.39,0),(0.58,-8.44,0),(1.58,-7.52,0),(2.57,0.88,0),(3.56,0.08,0),(4.56,0.28,0),(5.57,0.16,0),(6.55,1.48,0)]
binned_p4 = [(-7.01,0.15,1.5),(-6.07,-0.09,2.6),(-5.11,-0.15,2.6),(-4.09,-0.09,2.6),(-3.08,-4.48,1.5),(-2.10,-9.55,1.5),(-1.08,-9.25,2.5),(-0.15,-9.34,2.6),(0.90,-9.70,1.5),(1.97,-4.93,1.5),(2.79,0.30,1.5),(3.74,0.0,1.5)]
binned_p5 = [(-6.27,-0.50,0),(-5.27,0.15,0),(-4.27,0.25,0),(-3.27,-0.85,0),(-2.27,-7.39,0),(-1.28,-9.50,0),(-0.28,-10.25,0),(0.72,-9.80,0),(1.70,-8.49,0),(2.59,-2.96,0)]
binned_p6 = [(-4.45,0.50,1.2),(-3.50,0.50,1.2),(-2.53,-5.28,1.2),(-1.42,-9.20,1.2),(-0.45,-9.70,1.2),(0.51,-9.65,1.2),(1.54,-8.94,1.2),(2.59,-3.42,1.2),(3.38,0.0,2.9),(4.59,0.25,2.4),(5.46,0.50,2.4)]
binned_p7 = [(-6.43,1.00,0),(-5.45,0.35,0),(-4.45,-0.22,0),(-3.44,-2.26,0),(-2.44,-8.33,0),(-1.42,-7.46,0),(-0.44,-9.98,0),(0.56,-9.77,0),(1.58,-8.12,0),(2.56,-2.47,0),(3.56,-0.82,0),(4.56,0.65,0),(5.58,1.00,0),(6.57,-0.52,0)]

legend_labels = ["TESS", "ASTEP", "LCO", "LCO"]

# ------------------------------------------------------------------
# Build tables
# ------------------------------------------------------------------
gray_lists = [gray_p1, gray_p2, gray_p3 + gray_p3_core, gray_p4, gray_p5, gray_p6,
              gray_p7 + gray_p7_core]
model_lists = [model_p1, model_p2, model_p3, model_p4, model_p5, model_p6, model_p7]
binned_lists = [binned_p1, binned_p2, binned_p3, binned_p4, binned_p5, binned_p6, binned_p7]

gray_rows, model_rows, bin_rows = [], [], []
for k in range(7):
    base = 1.0 - k * flux_offset
    for p, r in gray_lists[k]:
        gray_rows.append({"phase": p * 1e-3, "flux": base + r * 1e-3})
    for p, r in model_lists[k]:
        model_rows.append({"phase": p * 1e-3, "flux": base + r * 1e-3, "panel": k})
    for p, r, e in binned_lists[k]:
        bin_rows.append({"phase": p * 1e-3, "flux": base + r * 1e-3,
                         "lo": base + (r - e) * 1e-3, "hi": base + (r + e) * 1e-3,
                         "err": e, "inst": panel_inst[k]})
gray_df = pd.DataFrame(gray_rows)
model_df = pd.DataFrame(model_rows)
bin_df = pd.DataFrame(bin_rows)
err_df = bin_df[bin_df["err"] > 0]
zero_df = pd.DataFrame({"phase": [0.0]})
major_df = pd.DataFrame({"phase": xtick_major})
minor_df = pd.DataFrame({"phase": xtick_minor})
one = pd.DataFrame({"a": [0]})

# ------------------------------------------------------------------
# Layout / style
# ------------------------------------------------------------------
W, H = 1655, 3618
PAD = {"left": 206, "top": 202, "right": 37, "bottom": 169}
AX_FONT = "Liberation Sans"
LEG_FONT = "DejaVu Sans"
GRAY = "#CDCDCD"
STRIP = "#94B8DB"
GRAY_SIZE = 820
BIN_SIZE = 1080

label_expr = " : ".join(
    f"abs(datum.value - ({v})) < 1e-9 ? '{l}'" for v, l in zip(xtick_major, xtick_labels)
) + " : ''"

xscale = alt.Scale(domain=[-0.007, 0.007], nice=False, zero=False)
yscale = alt.Scale(domain=[0.694, 1.018], nice=False, zero=False)
xaxis = alt.Axis(values=xtick_major, labelExpr=label_expr, ticks=False, tickSize=0,
                 domain=False, grid=False, labelFontSize=51, labelFont=AX_FONT,
                 labelColor="black", labelPadding=59, labelBaseline="alphabetic",
                 labelFlush=False, title="Phase", titleFontSize=73, titleFont=AX_FONT,
                 titleFontWeight="normal", titleColor="black", titleY=150,
                 titleBaseline="alphabetic")
yaxis = alt.Axis(labels=False, ticks=False, domain=False, grid=False,
                 title="Normalized Flux + Constant", titleFontSize=73, titleFont=AX_FONT,
                 titleFontWeight="normal", titleColor="black", titleAngle=270,
                 titleX=-104, titleY=1771, titleAlign="center", titleBaseline="middle")


def X(f="phase"):
    return alt.X(f"{f}:Q", scale=xscale, axis=xaxis)


def Y(f="flux"):
    return alt.Y(f"{f}:Q", scale=yscale, axis=yaxis)


color_scale = alt.Scale(domain=instruments, range=inst_colors)
layers = []

# background strips of the page
layers.append(alt.Chart(one).mark_rect(color=STRIP).encode(
    x=alt.value(-206), x2=alt.value(-163), y=alt.value(-202), y2=alt.value(H + 169)))
layers.append(alt.Chart(one).mark_rect(color=STRIP).encode(
    x=alt.value(1683), x2=alt.value(1692), y=alt.value(-202), y2=alt.value(H + 169)))

# legend frame (with shadow)
LB = dict(x0=88, x1=1610, y0=-173, y1=-60)
layers.append(alt.Chart(one).mark_rect(color="#E2E2E2", cornerRadius=14).encode(
    x=alt.value(LB["x0"] + 4), x2=alt.value(LB["x1"] + 4),
    y=alt.value(LB["y0"] + 5), y2=alt.value(LB["y1"] + 5)))
layers.append(alt.Chart(one).mark_rect(fill="white", stroke="#CCCCCC", strokeWidth=3,
                                       cornerRadius=14).encode(
    x=alt.value(LB["x0"]), x2=alt.value(LB["x1"]),
    y=alt.value(LB["y0"]), y2=alt.value(LB["y1"])))

# grey unbinned points
layers.append(alt.Chart(gray_df).mark_circle(size=GRAY_SIZE, color=GRAY, opacity=1,
                                             clip=True).encode(x=X(), y=Y()))
# zero-phase dashed line
layers.append(alt.Chart(zero_df).mark_rule(color="#707070", strokeWidth=2.5,
                                           strokeDash=[15, 8]).encode(
    x=X(), y=alt.value(0), y2=alt.value(H)))
# models
layers.append(alt.Chart(model_df).mark_line(color="black", strokeWidth=4.5,
                                            interpolate="monotone", clip=True).encode(
    x=X(), y=Y(), detail="panel:N"))
# error bars
layers.append(alt.Chart(err_df).mark_rule(strokeWidth=3, clip=True).encode(
    x=X(), y=Y("lo"), y2=alt.Y2("hi:Q"),
    color=alt.Color("inst:N", scale=color_scale, legend=None)))
# binned points
layers.append(alt.Chart(bin_df).mark_point(shape="circle", filled=True, size=BIN_SIZE,
                                           stroke="black", strokeWidth=4, opacity=1,
                                           clip=True).encode(
    x=X(), y=Y(), fill=alt.Fill("inst:N", scale=color_scale, legend=None)))

# inward ticks (bottom and top)
for df, ln in ((major_df, 34), (minor_df, 24)):
    layers.append(alt.Chart(df).mark_rule(color="black", strokeWidth=3).encode(
        x=X(), y=alt.value(H), y2=alt.value(H - ln)))
    layers.append(alt.Chart(df).mark_rule(color="black", strokeWidth=3).encode(
        x=X(), y=alt.value(0), y2=alt.value(ln)))

# frame
layers.append(alt.Chart(one).mark_rect(fill="white", fillOpacity=0, stroke="black",
                                       strokeWidth=3.5).encode(
    x=alt.value(0), x2=alt.value(W), y=alt.value(0), y2=alt.value(H)))

# legend entries
leg_mx = [168, 506, 930, 1312]
leg_my = -123
for mx, col in zip(leg_mx, inst_colors):
    layers.append(alt.Chart(one).mark_rule(color=col, strokeWidth=3).encode(
        x=alt.value(mx), y=alt.value(leg_my - 30), y2=alt.value(leg_my + 30)))
    layers.append(alt.Chart(one).mark_point(shape="circle", filled=True, size=BIN_SIZE,
                                            fill=col, stroke="black", strokeWidth=4,
                                            opacity=1).encode(
        x=alt.value(mx), y=alt.value(leg_my)))

FS = 55
BASE_Y = -100
pieces = [
    (legend_labels[0], 254, BASE_Y, FS, "normal"),
    (legend_labels[1], 596, BASE_Y, FS, "normal"),
    ("R", 787, BASE_Y, FS, "italic"),
    (legend_labels[2], 1023, BASE_Y, FS, "normal"),
    ("z", 1152, BASE_Y, FS, "italic"),
    ("s", 1182, BASE_Y + 11, 39, "italic"),
    (legend_labels[3], 1408, BASE_Y, FS, "normal"),
    ("g", 1537, BASE_Y, FS, "italic"),
    ("p", 1572, BASE_Y + 11, 39, "italic"),
]
for txt, tx, ty, fs, style in pieces:
    layers.append(alt.Chart(one).mark_text(text=txt, font=LEG_FONT, fontSize=fs,
                                           fontStyle=style, align="left",
                                           baseline="alphabetic", color="black").encode(
        x=alt.value(tx), y=alt.value(ty)))

chart = alt.layer(*layers).properties(
    width=W, height=H, padding=PAD, autosize=alt.AutoSizeParams(type="none")
).configure(font=AX_FONT, background="white").configure_view(stroke=None)

chart.save("out.html", embed_options={"renderer": "svg", "actions": False})
